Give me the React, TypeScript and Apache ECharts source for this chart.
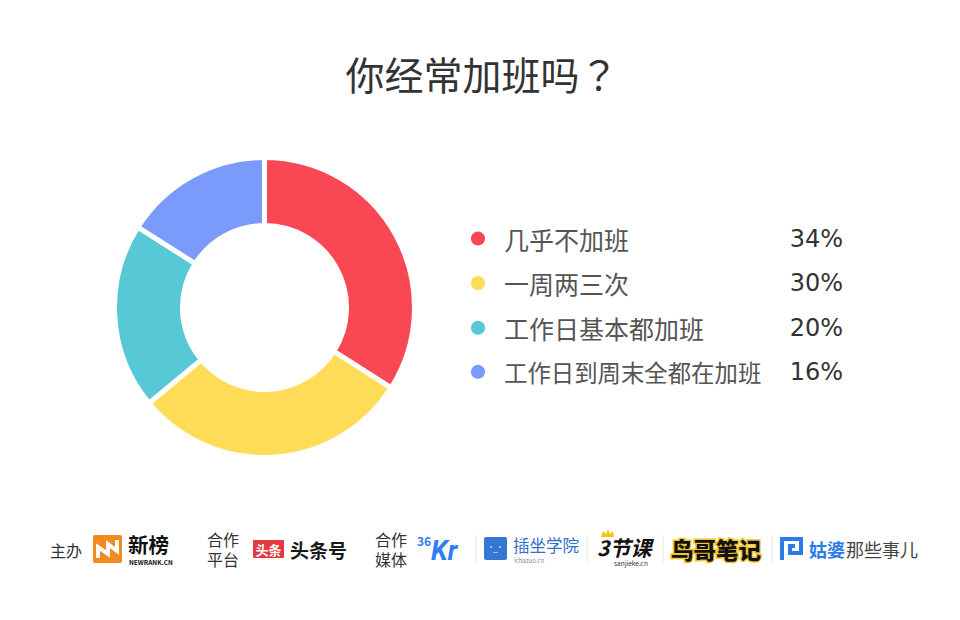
import React, { useEffect, useRef } from "react";
import * as echarts from "echarts";

const titleMain = "你经常加班吗";
const titleMark = "？";
const categories = ["几乎不加班", "一周两三次", "工作日基本都加班", "工作日到周末全都在加班"];
const values = [34, 30, 20, 16];
const colors = ["#F94753", "#FEDC58", "#57C8D6", "#7A9BFB"];

const FONT = '"Noto Sans CJK SC", "Noto Sans", sans-serif';

export default function App() {
  const ref = useRef<HTMLDivElement>(null);
  useEffect(() => {
    document.body.style.margin = "0";
    if (!ref.current) return;
    const chart = echarts.init(ref.current, undefined, { renderer: "svg" });
    const pctOf: Record<string, number> = {};
    categories.forEach((c, i) => (pctOf[c] = values[i]));

    const sep = (x: number) => ({
      type: "line",
      shape: { x1: x, y1: 535, x2: x, y2: 563 },
      style: { stroke: "#e8e8e8", lineWidth: 1 },
    });
    const txt = (x: number, y: number, t: string, size: number, color: string, weight: any = "normal", extra: any = {}) => ({
      type: "text",
      x,
      y,
      style: {
        text: t,
        fontSize: size,
        lineHeight: size,
        fill: color,
        fontWeight: weight,
        fontFamily: FONT,
        verticalAlign: "middle",
        ...extra,
      },
    });

    chart.setOption({
      animation: false,
      backgroundColor: "#ffffff",
      textStyle: { fontFamily: FONT },
      title: {
        text: `{a|${titleMain}}{b|${titleMark}}`,
        left: 482,
        textAlign: "center",
        top: 51,
        padding: 0,
        textStyle: {
          fontSize: 39,
          color: "#333333",
          lineHeight: 44,
          rich: {
            a: { fontSize: 39, fontWeight: "normal", color: "#333333", fontFamily: FONT, lineHeight: 44 },
            b: { fontSize: 39, fontWeight: "normal", color: "#333333", fontFamily: '"Noto Sans CJK TC", "Noto Sans CJK SC", sans-serif', lineHeight: 44 },
          },
        },
      },
      legend: {
        orient: "vertical",
        left: 469,
        top: 226,
        padding: 0,
        itemWidth: 16,
        itemHeight: 16,
        itemGap: 19.6,
        icon: "circle",
        selectedMode: false,
        data: categories,
        formatter: (name: string) =>
          `{${name.length > 10 ? "m" : "n"}|${name}}{v|${pctOf[name]}%}`,
        textStyle: {
          fontFamily: FONT,
          rich: {
            n: { fontSize: 25, color: "#555555", width: 282, padding: [0, 0, 0, 13], lineHeight: 30, fontFamily: FONT },
            m: { fontSize: 23.4, color: "#555555", width: 282, padding: [0, 0, 0, 13], lineHeight: 30, fontFamily: FONT },
            v: { fontSize: 24, color: "#333333", width: 57, align: "right", lineHeight: 30, fontFamily: '"DejaVu Sans", sans-serif' },
          },
        },
      },
      series: [
        {
          type: "pie",
          center: [264.5, 307.5],
          radius: [82, 150],
          startAngle: 90,
          clockwise: true,
          label: { show: false },
          labelLine: { show: false },
          emphasis: { disabled: true },
          itemStyle: { borderColor: "#ffffff", borderWidth: 5 },
          data: categories.map((c, i) => ({ name: c, value: values[i], itemStyle: { color: colors[i] } })),
        },
      ],
      graphic: [
        txt(50, 550, "主办", 16, "#333333"),
        { type: "rect", shape: { x: 93, y: 535, width: 29, height: 28, r: 2 }, style: { fill: "#F28A1E" } },
        {
          type: "polyline",
          shape: { points: [[98, 558], [98, 547], [108, 554], [108, 544], [117, 551], [117, 540]] },
          style: { stroke: "#ffffff", lineWidth: 4, fill: null, lineJoin: "miter" },
        },
        txt(128, 544, "新榜", 20.5, "#111111", "bold"),
        txt(129, 562, "NEWRANK.CN", 6.5, "#111111", "bold"),
        txt(207, 538.5, "合作", 16, "#333333"),
        txt(207, 558.5, "平台", 16, "#333333"),
        { type: "rect", shape: { x: 253, y: 540, width: 31, height: 18, r: 1 }, style: { fill: "#E4393F" } },
        txt(268.5, 549, "头条", 13, "#ffffff", "bold", { align: "center" }),
        txt(290, 549, "头条号", 19, "#1a1a1a", "bold"),
        txt(375, 538.5, "合作", 16, "#333333"),
        txt(375, 558.5, "媒体", 16, "#333333"),
        txt(417, 540, "36", 12, "#2F7CF6", "bold"),
        txt(431, 551, "Kr", 27, "#2F7CF6", "bold", { fontStyle: "italic", fontFamily: "Roboto, sans-serif" }),
        sep(476),
        { type: "rect", shape: { x: 484, y: 537, width: 23, height: 23, r: 2 }, style: { fill: "#3577D2" } },
        { type: "rect", shape: { x: 490, y: 546, width: 2, height: 2 }, style: { fill: "#9fc2f0" } },
        { type: "rect", shape: { x: 499, y: 546, width: 2, height: 2 }, style: { fill: "#9fc2f0" } },
        { type: "rect", shape: { x: 493, y: 552, width: 5, height: 1 }, style: { fill: "#9fc2f0" } },
        txt(513, 544.5, "插坐学院", 16.5, "#3370C8"),
        txt(514, 560.5, "ichazuo.cn", 6, "#7a8ca8"),
        sep(587),
        {
          type: "polygon",
          shape: { points: [[601, 537], [603, 531], [606, 534], [608, 529], [610, 534], [613, 531], [614, 537]] },
          style: { fill: "#F6C21B" },
        },
        txt(597, 546.5, "3节课", 21, "#111111", "bold", { fontStyle: "italic" }),
        txt(614, 563, "sanjieke.cn", 6.5, "#333333"),
        sep(663),
        txt(671, 549, "鸟哥笔记", 22.5, "#111111", 900, { stroke: "#F3C530", lineWidth: 3 }),
        sep(772),
        {
          type: "polyline",
          shape: { points: [[782, 560], [782, 539], [801, 539], [801, 553], [790, 553], [790, 546], [795, 546]] },
          style: { stroke: "#2B7CE9", lineWidth: 4, fill: null },
        },
        txt(809, 549, "姑婆", 18, "#2B7CE9", "bold"),
        txt(846, 549, "那些事儿", 18, "#444444"),
      ],
    });
    return () => chart.dispose();
  }, []);
  return <div ref={ref} style={{ width: 960, height: 620 }} />;
}
